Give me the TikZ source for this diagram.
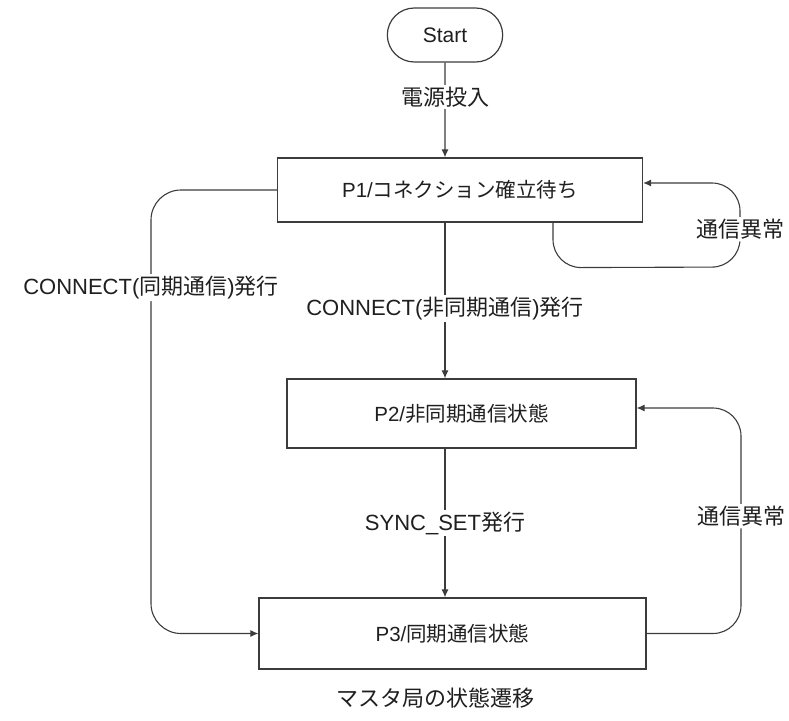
\documentclass[tikz,border=0pt]{standalone}
\usepackage{fontspec}
\setmainfont{Liberation Sans}
\newfontfamily\jpfont{Noto Sans CJK JP}
\newcommand{\ja}[1]{{\jpfont #1}}
\usepackage{tikz}
\usetikzlibrary{
  shapes.misc, arrows.meta, positioning
}
\definecolor{lineclr}{HTML}{3C3C3C}
\tikzstyle{state} = [
  rectangle, draw=lineclr, line width=1.3pt, fill=white,
  text=black!88, font=\fontsize{20.5}{24}\selectfont
]
\tikzstyle{terminal} = [
  rounded rectangle, draw=lineclr, line width=1.2pt,
  minimum width=122pt, minimum height=54pt,
  text=black!88, font=\fontsize{21}{24}\selectfont
]
\tikzstyle{lbl} = [fill=white, inner sep=2pt, text=black!88, font=\fontsize{22}{26}\selectfont]
\tikzstyle{arrow} = [-{Latex[length=8pt,width=7pt]}, draw=lineclr, line width=1.1pt]

\begin{document}
\begin{tikzpicture}[x=1pt, y=-1pt]
  \useasboundingbox (0,0) rectangle (789,720);

  \node[terminal] (start) at (445,35) {Start};
  \node[state, minimum width=365pt, minimum height=64pt] (p1) at (460,190) {P1/\ja{コネクション確立待ち}};
  \node[state, minimum width=349pt, minimum height=69pt] (p2) at (461.5,413.5) {P2/\ja{非同期通信状態}};
  \node[state, minimum width=387pt, minimum height=71pt] (p3) at (452.5,633.5) {P3/\ja{同期通信状態}};
  \node[lbl] (title) at (435,698) {\ja{マスタ局の状態遷移}};

  \draw[arrow] (start) -- node[lbl, pos=0.36] {\ja{電源投入}} (start |- p1.north);
  \draw[arrow] (p1.south -| start) -- node[lbl, pos=0.55] {CONNECT(\ja{非同期通信})\ja{発行}} (p2.north -| start);
  \draw[arrow] (p2.south -| start) -- node[lbl] {SYNC\_SET\ja{発行}} (p3.north -| start);

  % error loops
  \draw[arrow, rounded corners=28pt] ([xshift=93pt]p1.south) -- ++(0,45) -- (740,267)
    -- node[lbl, pos=0.45] {\ja{通信異常}} (740,183) -- ([yshift=7pt]p1.east);
  \draw[arrow, rounded corners=28pt] (p3.east) -- (741,633.5)
    -- node[lbl, pos=0.52] {\ja{通信異常}} (741,408) -- ([yshift=5.5pt]p2.east);

  \draw[arrow, rounded corners=30pt] (p1.west) -- (151,190)
    -- node[lbl, pos=0.22] {CONNECT(\ja{同期通信})\ja{発行}} (151,633.5) -- (p3.west);

\end{tikzpicture}
\end{document}
